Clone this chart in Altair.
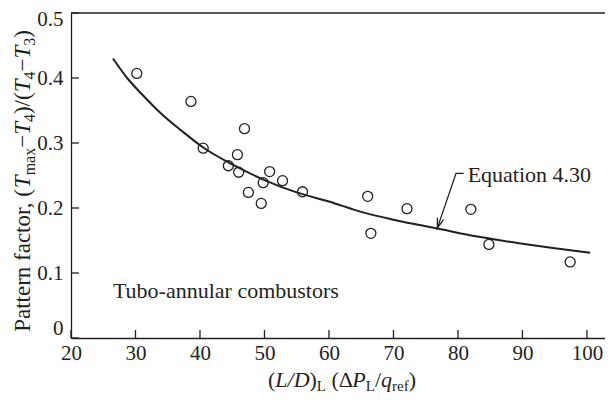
import altair as alt
import pandas as pd

# ---------------- data ----------------
pt_x = [30.2, 38.6, 46.9, 40.5, 45.8, 44.4, 46.0, 50.8, 49.8, 52.8,
        55.9, 47.5, 49.5, 66.0, 72.1, 66.5, 82.0, 84.8, 97.4]
pt_y = [0.407, 0.364, 0.322, 0.292, 0.282, 0.265, 0.255, 0.256, 0.239, 0.242,
        0.225, 0.224, 0.207, 0.218, 0.199, 0.161, 0.198, 0.144, 0.117]

curve_x = [26.5, 28.7, 31, 34, 37.5, 40.5, 45, 50, 55, 60, 65, 70, 77, 83, 90, 95, 100.5]
curve_y = [0.430, 0.400, 0.375, 0.345, 0.316, 0.293, 0.267, 0.243, 0.224, 0.210,
           0.194, 0.182, 0.168, 0.156, 0.145, 0.138, 0.131]

x_ticks = [20, 30, 40, 50, 60, 70, 80, 90, 100]
y_ticks = [0, 0.1, 0.2, 0.3, 0.4, 0.5]

# annotation arrow (label end -> corner -> tip on the curve)
arrow_x = [80.9, 79.7, 76.8]
arrow_y = [0.2534, 0.2534, 0.169]
eq_label = "Equation 4.30"
eq_pos = (81.5, 0.2407)
box_label = "Tubo-annular combustors"
box_pos = (26.5, 0.061)

# ---------------- layout ----------------
W, H = 534, 325
XMIN, XMAX = 20, 102.8
INK = "#231f20"
FONT = "Liberation Serif"
FS = 22
SUB = 15

# Times / Liberation Serif advance widths (1/1000 em)
REG = {"P": 556, "a": 444, "t": 278, "e": 444, "r": 333, "n": 500, " ": 250,
       "f": 333, "c": 444, "o": 500, ",": 250, "(": 333, ")": 333, "/": 278,
       "\u2212": 564, "m": 778, "x": 500, "4": 500, "3": 500, "L": 611,
       "\u0394": 612}
ITA = {"L": 556, "D": 722, "P": 611, "q": 500, "T": 556, "/": 278}


def seg_w(text, style, fs, sub):
    table = ITA if style == "i" else REG
    size = sub if style == "s" else fs
    return sum(table.get(ch, 500) for ch in text) * size / 1000.0


def text_layer(text, style, px, py, fs, sub, angle=0):
    kw = dict(text=text, font=FONT, color=INK, align="left",
              baseline="alphabetic",
              fontSize=sub if style == "s" else fs,
              fontStyle="italic" if style == "i" else "normal")
    if angle:
        kw["angle"] = angle
    return alt.Chart(pd.DataFrame({"k": [0]})).mark_text(**kw).encode(
        x=alt.value(px), y=alt.value(py))


def horiz_title(segs, cx, by, fs, sub):
    total = sum(seg_w(t, s, fs, sub) for t, s in segs)
    x = cx - total / 2
    out = []
    for t, s in segs:
        if t.strip():
            out.append(text_layer(t, s, x, by + (4 if s == "s" else 0), fs, sub))
        x += seg_w(t, s, fs, sub)
    return out


def vert_title(segs, bx, cy, fs, sub):
    total = sum(seg_w(t, s, fs, sub) for t, s in segs)
    y = cy + total / 2
    out = []
    for t, s in segs:
        if t.strip():
            out.append(text_layer(t, s, bx + (5 if s == "s" else 0), y, fs, sub, angle=270))
        y -= seg_w(t, s, fs, sub)
    return out


xtitle_segs = [("(", "r"), ("L/D", "i"), (")", "r"), ("L", "s"), (" ", "r"), ("(\u0394", "r"),
               ("P", "i"), ("L", "s"), ("/", "r"), ("q", "i"), ("ref", "s"), (")", "r")]
ytitle_segs = [("Pattern factor, (", "r"), ("T", "i"), ("max", "s"), ("\u2212", "r"),
               ("T", "i"), ("4", "s"), (")/(", "r"), ("T", "i"), ("4", "s"),
               ("\u2212", "r"), ("T", "i"), ("3", "s"), (")", "r")]

# ---------------- tables ----------------
df_pts = pd.DataFrame({"x": pt_x, "y": pt_y})
df_curve = pd.DataFrame({"x": curve_x, "y": curve_y})
df_arrow = pd.DataFrame({"x": arrow_x, "y": arrow_y, "k": list(range(len(arrow_x)))})
df_tip = pd.DataFrame({"x": [arrow_x[-1]], "y": [arrow_y[-1]]})
df_xt = pd.DataFrame({"x": x_ticks})
df_yt = pd.DataFrame({"y": y_ticks})
df_top = pd.DataFrame({"y": [0.5]})
df_eq = pd.DataFrame({"x": [eq_pos[0]], "y": [eq_pos[1]], "t": [eq_label]})
df_box = pd.DataFrame({"x": [box_pos[0]], "y": [box_pos[1]], "t": [box_label]})

X = alt.X("x:Q", scale=alt.Scale(domain=[XMIN, XMAX], nice=False, zero=False),
          axis=alt.Axis(values=x_ticks, title=None, ticks=False, grid=False,
                        labelFlush=False, labelOverlap=False, labelPadding=4,
                        domainColor=INK, domainWidth=1.3))
Y = alt.Y("y:Q", scale=alt.Scale(domain=[0, 0.5], nice=False, zero=False),
          axis=alt.Axis(values=y_ticks, title=None, ticks=False, grid=False,
                        labelFlush=False, labelOverlap=False, labelPadding=8,
                        labelExpr="datum.value == 0 ? '0' : format(datum.value, '.1f')",
                        labelBaseline={"condition": {"test": "datum.value == 0", "value": "bottom"},
                                       "value": "middle"},
                        labelOffset={"condition": {"test": "datum.value == 0.5", "value": 6},
                                     "value": 0},
                        domainColor=INK, domainWidth=1.3))

curve = alt.Chart(df_curve).mark_line(color=INK, strokeWidth=2, interpolate="monotone").encode(x=X, y=Y)
points = alt.Chart(df_pts).mark_point(shape="circle", filled=False, size=100,
                                      stroke=INK, strokeWidth=1.3, opacity=1).encode(x=X, y=Y)
xt = alt.Chart(df_xt).mark_rule(color=INK, strokeWidth=1.3).encode(
    x=X, y=alt.value(H), y2=alt.value(H - 8))
yt = alt.Chart(df_yt).mark_rule(color=INK, strokeWidth=1.3).encode(
    y=Y, x=alt.value(0), x2=alt.value(8))
top = alt.Chart(df_top).mark_rule(color=INK, strokeWidth=1.3).encode(
    y=Y, x=alt.value(0), x2=alt.value(W))
arrow = alt.Chart(df_arrow).mark_line(color=INK, strokeWidth=1.3).encode(
    x=X, y=Y, order="k:Q")
tip = alt.Chart(df_tip).mark_point(shape="M -0.32 -1 L 0 0 L 0.32 -1", size=400, angle=18.6,
                                   filled=False, stroke=INK, strokeWidth=1.3,
                                   opacity=1).encode(x=X, y=Y)
eq = alt.Chart(df_eq).mark_text(font=FONT, fontSize=FS, color=INK, align="left",
                                baseline="alphabetic").encode(x=X, y=Y, text="t:N")
box = alt.Chart(df_box).mark_text(font=FONT, fontSize=FS, color=INK, align="left",
                                  baseline="alphabetic").encode(x=X, y=Y, text="t:N")

layers = [top, xt, yt, curve, points, arrow, tip, eq, box]
layers += horiz_title(xtitle_segs, 271, 374, FS, SUB)
layers += vert_title(ytitle_segs, -41, 168, 23, 16)

chart = alt.layer(*layers).properties(
    width=W, height=H,
    autosize=alt.AutoSizeParams(type="none"),
    padding={"left": 63, "top": 5, "right": 0, "bottom": 57},
).configure_view(stroke=None).configure_axis(
    labelFont=FONT, labelFontSize=21, labelColor=INK
)

chart.save("out.html", embed_options={"renderer": "svg", "actions": False})
